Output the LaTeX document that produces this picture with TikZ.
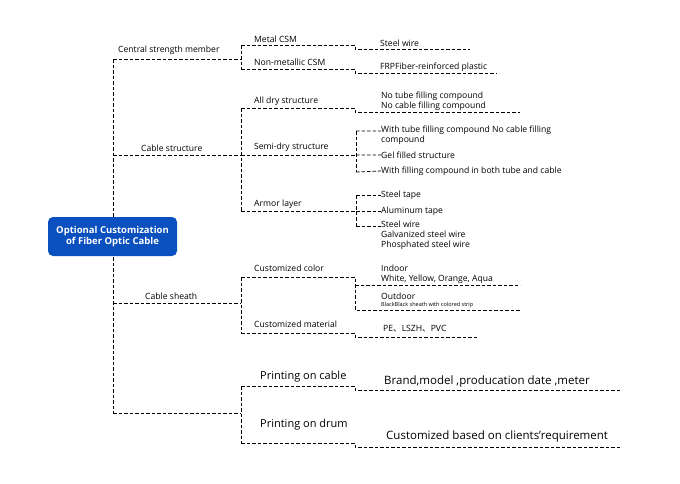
\documentclass[tikz,border=0pt]{standalone}
\usepackage{fontspec}
\setmainfont{Open Sans}
\newfontfamily\cjkf{Noto Sans CJK SC}
\begin{document}
\begin{tikzpicture}[x=1pt,y=-1pt,
  ln/.style={line width=0.8pt,dash pattern=on 3.5pt off 2pt},
  t/.style={inner sep=0pt,anchor=west,font=\fontsize{8.6}{10}\selectfont,align=left},
  tb/.style={inner sep=0pt,anchor=west,font=\fontsize{11}{12}\selectfont},
  root/.style={fill=rootblue,rounded corners=5pt,text=white,font=\bfseries\fontsize{9.5}{11.5}\selectfont,align=center,minimum width=129pt,minimum height=39pt}]
\definecolor{rootblue}{HTML}{0A50BE}
\useasboundingbox (0,0) rectangle (680,483);
% junction coordinates
\coordinate (t0) at (113,59); \coordinate (t1) at (113,155);
\coordinate (t2) at (113,303); \coordinate (t3) at (113,413);
\coordinate (a0) at (241,59); \coordinate (a1) at (241,155);
\coordinate (a2) at (241,303); \coordinate (a3) at (241,413);
% trunk
\draw[ln] (t0) -- (t3);
\node[root] (root) at (112.5,236.5) {Optional Customization\\of Fiber Optic Cable};
\draw[ln] (t0) -- (a0) (t1) -- (a1) (t2) -- (a2) (t3) -- (a3);
\node[t] (csm) at (118,50) {Central strength member};
\node[t] (cs) at (141,148) {Cable structure};
\node[t] (sh) at (145,296) {Cable sheath};
% level 2 groups
\draw[ln] (241,45) -- (241,69);
\draw[ln] (241,108) -- (241,211);
\draw[ln] (241,277) -- (241,333);
\draw[ln] (241,386) -- (241,443);
% CSM
\node[t] (mc) at (254,39) {Metal CSM};
\node[t] (nm) at (254,62) {Non-metallic CSM};
\node[t] (sw1) at (380,43) {Steel wire};
\node[t] (frp) at (380,67) {FRPFiber-reinforced plastic};
\draw[ln] (241,45) -- (355,45) -- (355,49) -- (470,49);
\draw[ln] (241,69) -- (355,69) -- (355,73) -- (497,73);
% structure
\node[t] (ad) at (254,101) {All dry structure};
\node[t] (sd) at (254,147) {Semi-dry structure};
\node[t] (ar) at (254,204) {Armor layer};
\node[t] (ntf) at (381,101.5) {No tube filling compound\\No cable filling compound};
\draw[ln] (241,108) -- (355,108) -- (355,112) -- (520,112);
\node[t,anchor=north west] (wtf) at (381,126) {With tube filling compound No cable filling\\compound};
\node[t] (gel) at (381,155) {Gel filled structure};
\node[t] (wfb) at (381,171) {With filling compound in both tube and cable};
\draw[ln] (241,155) -- (356,155);
\draw[ln] (356,131) -- (356,172);
\draw[ln] (356,131) -- (wtf.north west |- 0,131) (356,155) -- (gel.west) (356,172) -- (wfb.west);
\node[t] (st) at (381,195) {Steel tape};
\node[t] (al) at (381,211) {Aluminum tape};
\node[t,anchor=north west] (sw2) at (381,221) {Steel wire\\Galvanized steel wire\\Phosphated steel wire};
\draw[ln] (241,211) -- (356,211);
\draw[ln] (356,195) -- (356,226);
\draw[ln] (356,195) -- (st.west) (356,211) -- (al.west) (356,226) -- (sw2.north west |- 0,226);
% sheath
\node[t] (cc) at (254,268) {Customized color};
\node[t] (cm) at (254,324) {Customized material};
\node[t] (ind) at (381,268) {Indoor};
\node[t] (wy) at (381,279) {White, Yellow, Orange, Aqua};
\node[t] (out) at (381,296) {Outdoor};
\node[t,font=\fontsize{5.5}{6}\selectfont] (bb) at (381,305) {BlackBlack sheath with colored strip};
\draw[ln] (241,277) -- (355,277) -- (355,310) -- (520,310);
\draw[ln] (355,285) -- (520,285);
\node[t] (pe) at (383,329) {PE{\cjkf 、}LSZH{\cjkf 、}PVC};
\draw[ln] (241,333) -- (355,333) -- (355,337) -- (477,337);
% printing
\node[tb] (pc) at (260,377) {Printing on cable};
\node[tb] (pd) at (260,425) {Printing on drum};
\node[tb,font=\fontsize{11.5}{12}\selectfont] (br) at (384,382) {Brand,model ,producation date ,meter};
\node[tb,font=\fontsize{11.5}{12}\selectfont] (cb) at (386,437) {Customized based on clients\char"27 requirement};
\draw[ln] (241,386) -- (355,386) -- (355,390) -- (622,390);
\draw[ln] (241,443) -- (355,443) -- (355,447) -- (620,447);
\end{tikzpicture}
\end{document}
